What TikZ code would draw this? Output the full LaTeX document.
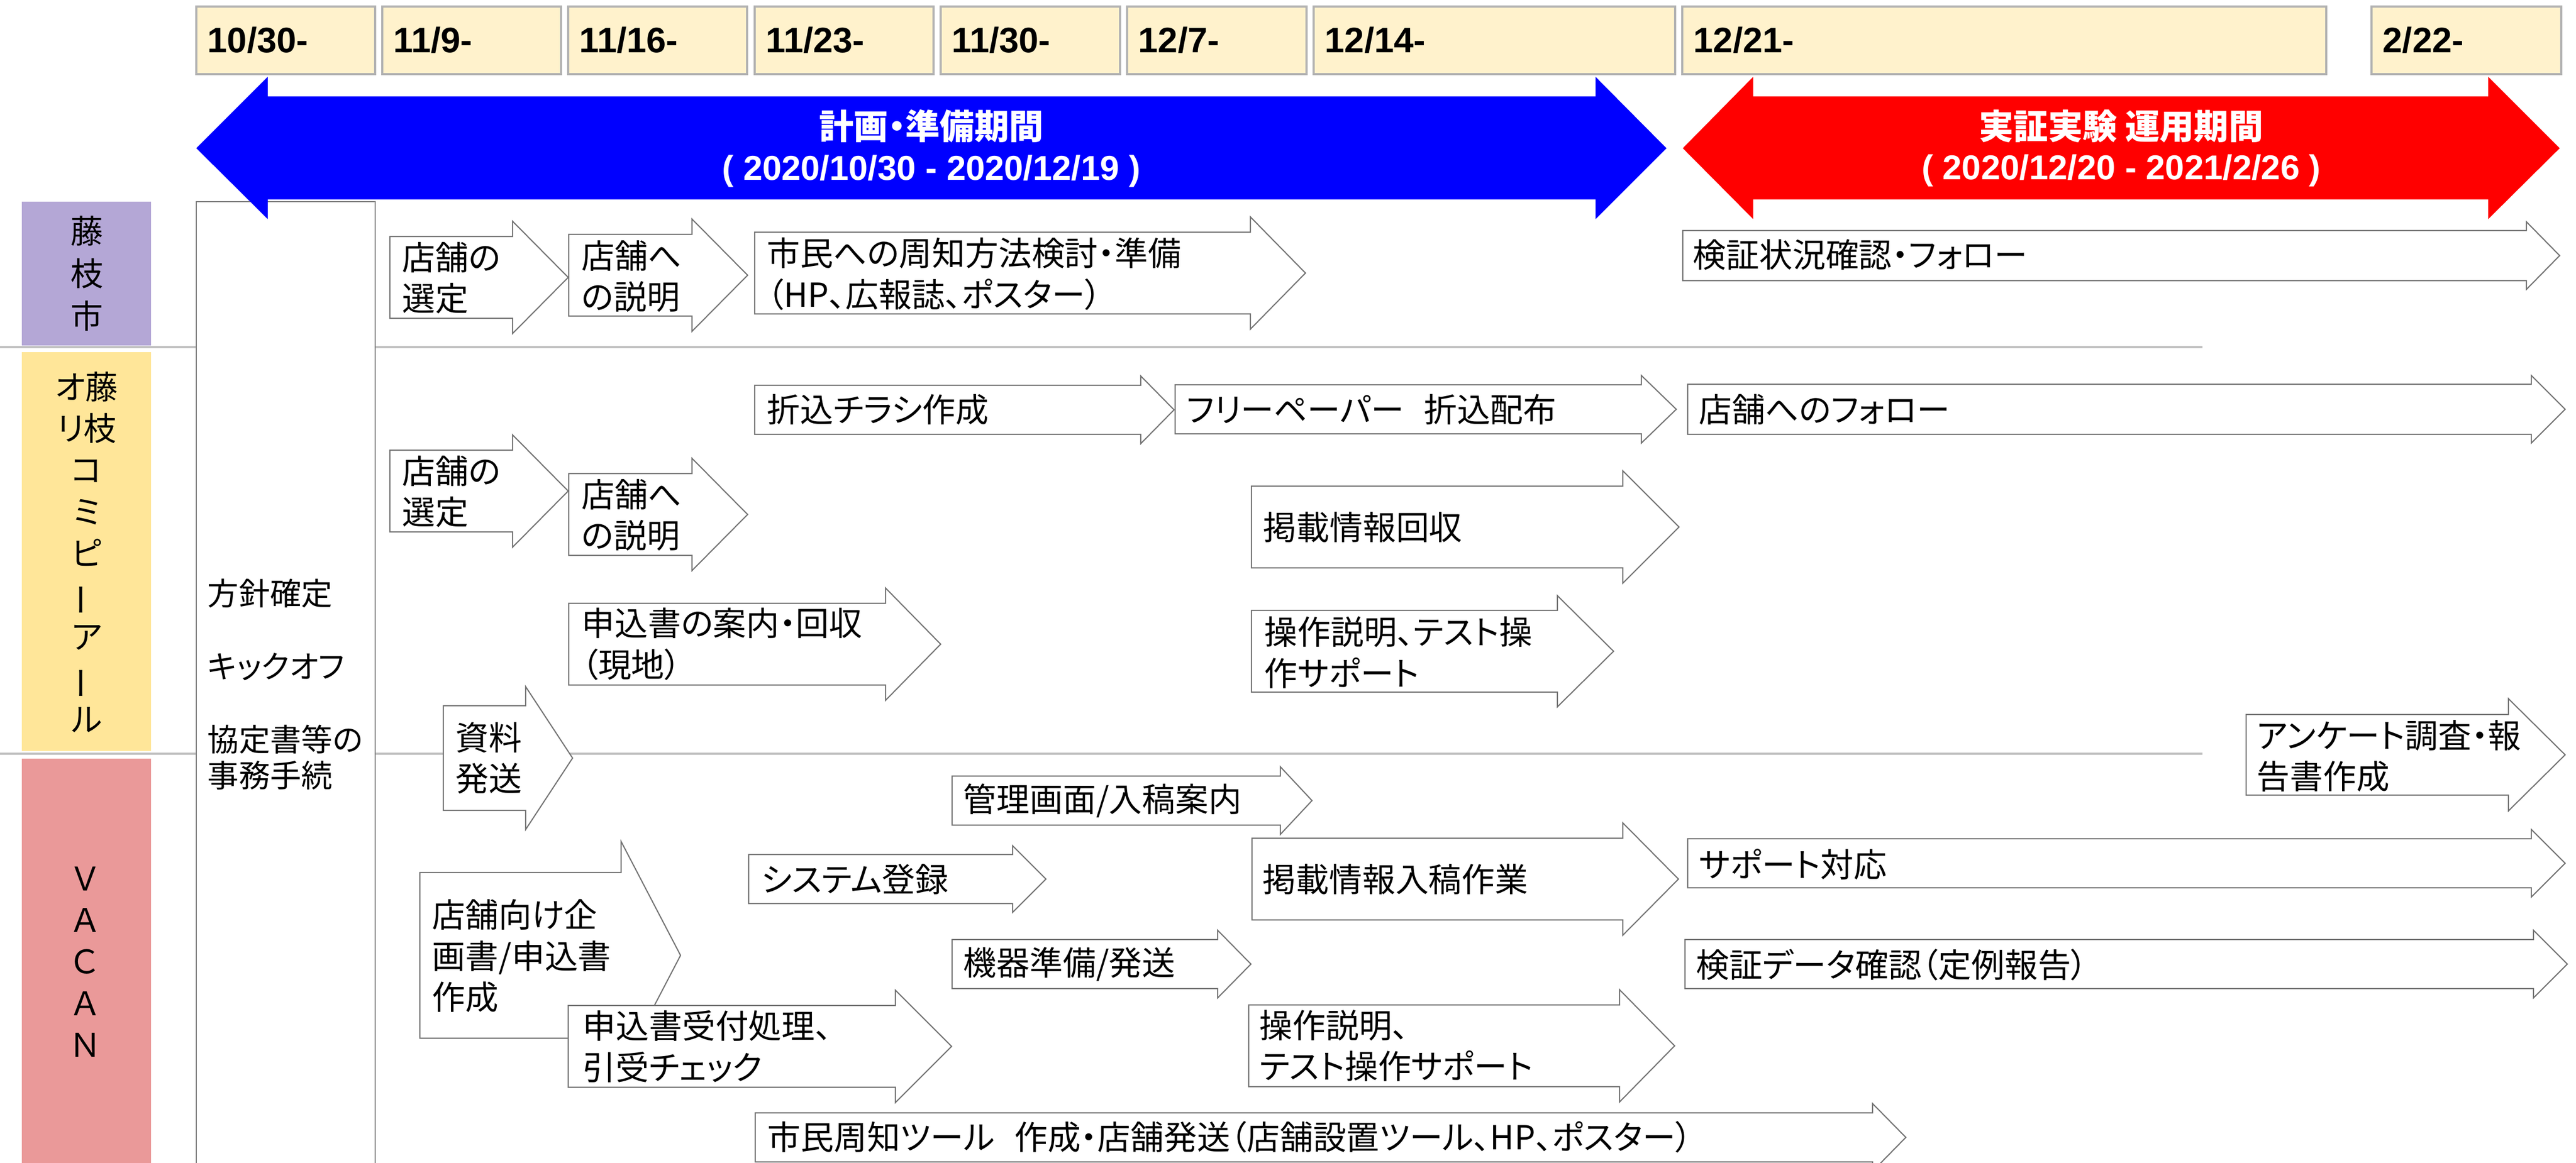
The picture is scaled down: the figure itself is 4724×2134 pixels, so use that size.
\documentclass[tikz,border=0pt]{standalone}
\usepackage{fontspec}
\setmainfont{Noto Sans CJK JP}[RawFeature=+palt]
\newfontfamily\arialfont{Liberation Sans}
\usepackage{graphicx}
\usepackage{tikz}
\definecolor{datefill}{HTML}{FFF2CC}
\definecolor{lanepurple}{HTML}{B4A7D6}
\definecolor{laneyellow}{HTML}{FFE699}
\definecolor{lanepink}{HTML}{EA9999}
\definecolor{planblue}{HTML}{0000FF}
\definecolor{trialred}{HTML}{FF0000}
\def\blockarrow(#1,#2,#3)(#4:#5:#6){\draw[arrowline] (#1,#4-#5) -- (#2,#4-#5) -- (#2,#4-#6) -- (#3,#4) -- (#2,#4+#6) -- (#2,#4+#5) -- (#1,#4+#5) -- cycle;}
\tikzset{
	arrowline/.style={draw=black!55, fill=white, line width=0.6pt},
	datebox/.style={draw=black!30, fill=datefill, line width=0.9pt},
	datetxt/.style={anchor=west, inner sep=0pt, font=\arialfont\bfseries\fontsize{18.5}{22}\selectfont},
	tasktxt/.style={anchor=west, inner sep=0pt, align=left, font=\fontsize{17.3}{21.5}\selectfont},
	lanetxt/.style={inner sep=0pt, align=center, font=\fontsize{17}{21.7}\selectfont},
	lanerule/.style={draw=black!25, line width=0.9pt},
	periodtxt/.style={inner sep=0pt, align=center, text=white, font=\bfseries\fontsize{18}{21.3}\selectfont}
}

\begin{document}
\begin{tikzpicture}[x=0.01cm, y=-0.01cm]
			%%%%% START %%%%%
			\clip (0,0) rectangle (4724,2134);
			
			\draw[lanerule] (0,637) -- (4039,637);
			\draw[lanerule] (0,1383) -- (4039,1383);
			
			\fill[lanepurple] (40,370) rectangle (277,634);
			\node[lanetxt, font=\fontsize{17}{22.1}\selectfont] (lcity) at (159,502) {藤\\枝\\市};
			\fill[laneyellow] (40,646) rectangle (277,1378);
			\node[lanetxt] (lori) at (159,1013) {オ藤\\リ枝\\コ\\ミ\\ピ\\\rotatebox[origin=c]{90}{ー}\\ア\\\rotatebox[origin=c]{90}{ー}\\ル};
			\fill[lanepink] (40,1392) rectangle (277,2140);
			\node[lanetxt] (lvacan) at (156,1765) {Ｖ\\Ａ\\Ｃ\\Ａ\\Ｎ};
			
			\draw[datebox] (360,12) rectangle (688,136);
			\node[datetxt] (d1) at (380,74) {10/30-};
			\draw[datebox] (701,12) rectangle (1029,136);
			\node[datetxt] (d2) at (721,74) {11/9-};
			\draw[datebox] (1042,12) rectangle (1370,136);
			\node[datetxt] (d3) at (1062,74) {11/16-};
			\draw[datebox] (1384,12) rectangle (1712,136);
			\node[datetxt] (d4) at (1404,74) {11/23-};
			\draw[datebox] (1725,12) rectangle (2054,136);
			\node[datetxt] (d5) at (1745,74) {11/30-};
			\draw[datebox] (2067,12) rectangle (2396,136);
			\node[datetxt] (d6) at (2087,74) {12/7-};
			\draw[datebox] (2409,12) rectangle (3072,136);
			\node[datetxt] (d7) at (2429,74) {12/14-};
			\draw[datebox] (3085,12) rectangle (4266,136);
			\node[datetxt] (d8) at (3105,74) {12/21-};
			\draw[datebox] (4349,12) rectangle (4697,136);
			\node[datetxt] (d9) at (4369,74) {2/22-};
			
			\draw[draw=black!50, fill=white, line width=0.6pt] (360,370) rectangle (688,2150);
			\node[tasktxt, font=\fontsize{16.3}{19}\selectfont] (kickoff) at (380,1256) {方針確定\\[19pt]キックオフ\\[19pt]協定書等の\\事務手続};
			
			\fill[planblue] (360,272) -- (491,141) -- (491,177) -- (2926,177) -- (2926,141) -- (3056,272) -- (2926,402) -- (2926,366) -- (491,366) -- (491,402) -- cycle;
			\node[periodtxt] (plan) at (1708,272) {計画・準備期間\\{\arialfont ( 2020/10/30 - 2020/12/19 )}};
			\fill[trialred] (3086,272) -- (3215,141) -- (3215,177) -- (4563,177) -- (4563,141) -- (4694,272) -- (4563,402) -- (4563,366) -- (3215,366) -- (3215,402) -- cycle;
			\node[periodtxt] (trial) at (3890,272) {実証実験 運用期間\\{\arialfont ( 2020/12/20 - 2021/2/26 )}};
			
			% city
			\blockarrow(715,940,1042)(509:75:103)
			\node[tasktxt] (cselect) at (737,510) {店舗の\\選定};
			\blockarrow(1043,1269,1371)(505:75:103)
			\node[tasktxt] (cbrief) at (1066,507) {店舗へ\\の説明};
			\blockarrow(1384,2293,2394)(501:75:103)
			\node[tasktxt] (cnotice) at (1406,503) {市民への周知方法検討・準備\\（HP、広報誌、ポスター）};
			\blockarrow(3086,4633,4694)(469:46:62)
			\node[tasktxt] (cfollow) at (3104,468) {検証状況確認・フォロー};
			
			% orikomi
			\blockarrow(1384,2092,2153)(752:45:62)
			\node[tasktxt] (oflyer) at (1406,752) {折込チラシ作成};
			\blockarrow(2155,3010,3074)(751:45:62)
			\node[tasktxt] (opaper) at (2175,751) {フリーペーパー\hspace{0.6em}折込配布};
			\blockarrow(3095,4642,4704)(751:46:62)
			\node[tasktxt] (ofollow) at (3115,751) {店舗へのフォロー};
			\blockarrow(715,940,1042)(901:75:103)
			\node[tasktxt] (oselect) at (737,902) {店舗の\\選定};
			\blockarrow(1043,1269,1371)(944:75:103)
			\node[tasktxt] (obrief) at (1066,945) {店舗へ\\の説明};
			\blockarrow(2295,2976,3079)(967:75:103)
			\node[tasktxt] (ocollect) at (2316,967) {掲載情報回収};
			\blockarrow(1043,1624,1725)(1182:75:103)
			\node[tasktxt] (oform) at (1066,1182) {申込書の案内・回収\\（現地）};
			\blockarrow(2295,2856,2959)(1195:75:102)
			\node[tasktxt] (ohelp) at (2318,1197) {操作説明、テスト操\\作サポート};
			\blockarrow(813,964,1050)(1391:96:131)
			\node[tasktxt] (osend) at (835,1391) {資料\\発送};
			\blockarrow(4119,4600,4704)(1385:74:103)
			\node[tasktxt] (oreport) at (4138,1387) {アンケート調査・報\\告書作成};
			
			% vacan
			\blockarrow(1746,2348,2406)(1469:45:62)
			\node[tasktxt] (vadmin) at (1766,1469) {管理画面/入稿案内};
			\blockarrow(1373,1857,1918)(1613:45:61)
			\node[tasktxt] (vsystem) at (1395,1613) {システム登録};
			\blockarrow(2296,2976,3078)(1613:75:103)
			\node[tasktxt] (vinput) at (2315,1613) {掲載情報入稿作業};
			\blockarrow(3095,4642,4704)(1584:45:62)
			\node[tasktxt] (vsupport) at (3115,1586) {サポート対応};
			\blockarrow(1746,2233,2294)(1769:45:62)
			\node[tasktxt] (vdevice) at (1766,1769) {機器準備/発送};
			\blockarrow(3090,4646,4708)(1769:45:62)
			\node[tasktxt] (vdata) at (3110,1770) {検証データ確認（定例報告）};
			\blockarrow(770,1139,1248)(1753:152:209)
			\node[tasktxt] (vplan) at (792,1754) {店舗向け企\\画書/申込書\\作成};
			\blockarrow(1042,1642,1745)(1920:75:103)
			\node[tasktxt] (vaccept) at (1068,1920) {申込書受付処理、\\引受チェック};
			\blockarrow(2290,2970,3071)(1919:75:103)
			\node[tasktxt] (vhelp) at (2309,1919) {操作説明、\\テスト操作サポート};
			\blockarrow(1385,3434,3495)(2087:45:62)
			\node[tasktxt] (vtools) at (1407,2086) {市民周知ツール\hspace{0.6em}作成・店舗発送（店舗設置ツール、HP、ポスター）};
			
			%%%%% END %%%%%
\end{tikzpicture}
\end{document}
